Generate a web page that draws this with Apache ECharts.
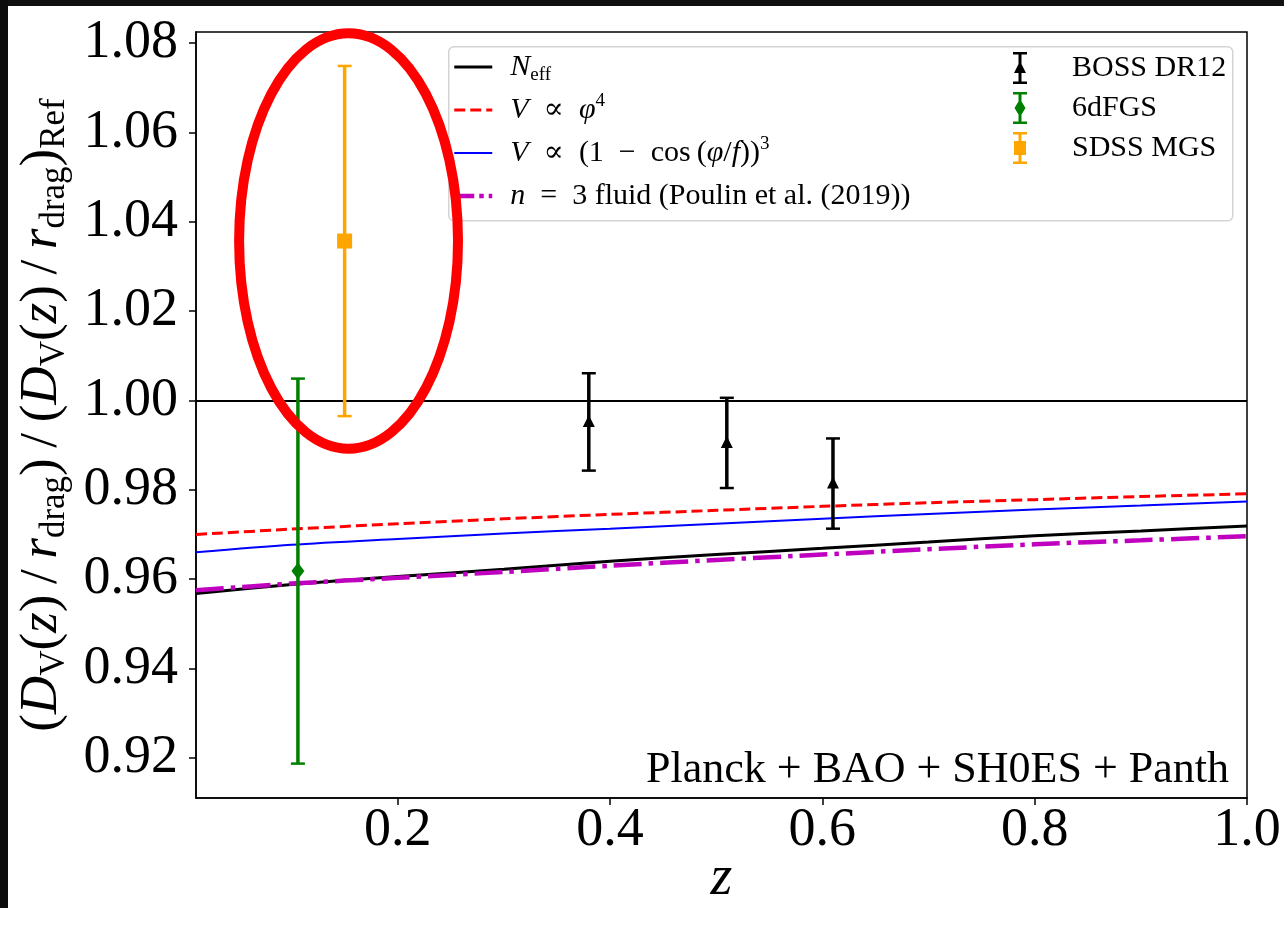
<!DOCTYPE html>
<html>
<head>
<meta charset="utf-8">
<script src="https://cdn.jsdelivr.net/npm/echarts@6/dist/echarts.min.js"></script>
<style>
html,body{margin:0;padding:0;background:#fff;}
#c{position:absolute;left:0;top:0;width:1284px;height:942px;}
#bandTop{position:absolute;left:0;top:0;width:1284px;height:6px;background:#111;}
#bandLeft{position:absolute;left:0;top:0;width:8px;height:908px;background:#0c0c0c;}
</style>
</head>
<body>
<div id="c"></div>
<div id="bandTop"></div>
<div id="bandLeft"></div>
<script>
// ---- data ----
const zGrid   = [0.01, 0.1, 0.2, 0.3, 0.4, 0.5, 0.6, 0.7, 0.8, 0.9, 1.0];
const neff    = [0.9568, 0.9588, 0.9606, 0.9622, 0.9640, 0.9655, 0.9669, 0.9683, 0.9697, 0.9708, 0.9719];
const phi4    = [0.9700, 0.9712, 0.9724, 0.9735, 0.9745, 0.9754, 0.9763, 0.9771, 0.9778, 0.9785, 0.9791];
const cos3    = [0.9660, 0.9677, 0.9690, 0.9702, 0.9713, 0.9724, 0.9735, 0.9746, 0.9756, 0.9765, 0.9774];
const fluid   = [0.9575, 0.9590, 0.9603, 0.9616, 0.9630, 0.9643, 0.9655, 0.9667, 0.9678, 0.9687, 0.9696];

const bossZ   = [0.38, 0.51, 0.61];
const bossV   = [0.9952, 0.9905, 0.9814];
const bossErr = [0.0109, 0.0101, 0.0101];
const sixdfZ  = [0.106];
const sixdfV  = [0.9618];
const sixdfErr= [0.0431];
const sdssZ   = [0.15];
const sdssV   = [1.0357];
const sdssErr = [0.0392];

const refLevel = 1.0;
const ellipseAnno = [[0.1537, 1.0357, 0.1031, 0.0465]]; // centre z, centre y, half-width, half-height

const xTicks = [0.2, 0.4, 0.6, 0.8, 1.0];
const yTicks = [0.92, 0.94, 0.96, 0.98, 1.00, 1.02, 1.04, 1.06, 1.08];
const annotationText = 'Planck + BAO + SH0ES + Panth';

// ---- helpers ----
const FONT = "'Liberation Serif', 'DejaVu Serif', serif";
const zip = (xs, ys) => xs.map((x, i) => [x, ys[i]]);
const zip3 = (xs, ys, es) => xs.map((x, i) => [x, ys[i], es[i]]);

function errRender(marker) {
  return function (params, api) {
    const x = api.value(0), y = api.value(1), e = api.value(2);
    const c = api.coord([x, y]);
    const t = api.coord([x, y + e]);
    const b = api.coord([x, y - e]);
    const color = api.visual('color');
    const cap = 7;
    const children = [
      {type: 'line', shape: {x1: t[0], y1: t[1], x2: b[0], y2: b[1]}, style: {stroke: color, lineWidth: 3.5}},
      {type: 'line', shape: {x1: t[0] - cap, y1: t[1], x2: t[0] + cap, y2: t[1]}, style: {stroke: color, lineWidth: 2.5}},
      {type: 'line', shape: {x1: b[0] - cap, y1: b[1], x2: b[0] + cap, y2: b[1]}, style: {stroke: color, lineWidth: 2.5}}
    ];
    let pts;
    if (marker === 'triangle') pts = [[c[0], c[1] - 7], [c[0] + 6, c[1] + 5], [c[0] - 6, c[1] + 5]];
    else if (marker === 'diamond') pts = [[c[0], c[1] - 8.5], [c[0] + 6.5, c[1]], [c[0], c[1] + 8.5], [c[0] - 6.5, c[1]]];
    else pts = [[c[0] - 7.5, c[1] - 7.5], [c[0] + 7.5, c[1] - 7.5], [c[0] + 7.5, c[1] + 7.5], [c[0] - 7.5, c[1] + 7.5]];
    children.push({type: 'polygon', shape: {points: pts}, style: {fill: color}});
    return {type: 'group', children: children};
  };
}

const LF = 30; // legend font size
const richCommon = {
  it:  {fontFamily: FONT, fontSize: LF, fontStyle: 'italic', lineHeight: 36, color: '#000'},
  sub: {fontFamily: FONT, fontSize: 19, lineHeight: 21, verticalAlign: 'bottom', color: '#000'},
  sup: {fontFamily: FONT, fontSize: 19, lineHeight: 19, verticalAlign: 'top', color: '#000'},
  pad: {width: 13, fontSize: LF, lineHeight: 36},
  padR:{width: 40, fontSize: LF, lineHeight: 36}
};

const SP = '\u2002'; // en space, mimicking TeX math spacing
const leftLabels = {
  'Neff':  '{it|N}{sub|eff}',
  'phi4':  '{it|V}' + SP + '∝' + SP + '{it|φ}{sup|4}',
  'cos3':  '{it|V}' + SP + '∝' + SP + '(1' + SP + '−' + SP + 'cos\u2009({it|φ}/{it|f})){sup|3}',
  'fluid': '{it|n}' + SP + '=' + SP + '3 fluid (Poulin et al. (2019))'
};

const iconTri = 'path://M0,0H14V2.5H0Z M5.5,0H8.5V32H5.5Z M0,29.5H14V32H0Z M7,9L13,21H1Z';
const iconDia = 'path://M0,0H14V2.5H0Z M5.5,0H8.5V32H5.5Z M0,29.5H14V32H0Z M7,7L12.5,16L7,25L1.5,16Z';
const iconSq  = 'path://M0,0H14V2.5H0Z M5.5,0H8.5V32H5.5Z M0,29.5H14V32H0Z M1,9H13V23H1Z';

const hiddenSymbol = {opacity: 0, borderWidth: 0};

const chart = echarts.init(document.getElementById('c'), null, {renderer: 'canvas'});

const option = {
  backgroundColor: '#fff',
  animation: false,
  grid: {left: 196, right: 37, top: 32, bottom: 144, show: true, borderColor: '#000', borderWidth: 1.5, backgroundColor: 'transparent'},
  xAxis: {
    type: 'value', min: 0.01, max: 1.0,
    axisLine: {show: true, lineStyle: {color: '#000', width: 1.5}},
    axisTick: {show: true, length: 7, lineStyle: {color: '#000', width: 1.5}, customValues: xTicks},
    axisLabel: {customValues: xTicks, formatter: v => v.toFixed(1), fontFamily: FONT, fontSize: 54, color: '#000', margin: 6},
    splitLine: {show: false},
    name: 'z', nameLocation: 'middle', nameGap: 53, nameMoveOverlap: false,
    nameTextStyle: {fontFamily: FONT, fontSize: 56, fontStyle: 'italic', color: '#000'}
  },
  yAxis: {
    type: 'value', min: 0.911, max: 1.0825,
    axisLine: {show: true, lineStyle: {color: '#000', width: 1.5}},
    axisTick: {show: true, length: 7, lineStyle: {color: '#000', width: 1.5}, customValues: yTicks},
    axisLabel: {customValues: yTicks, formatter: v => v.toFixed(2), fontFamily: FONT, fontSize: 54, color: '#000', margin: 18},
    splitLine: {show: false},
    name: '({it|D}{sub|V}({it|z})\u2009/\u2009{it|r}{sub|drag})\u2009/\u2009({it|D}{sub|V}({it|z})\u2009/\u2009{it|r}{sub|drag}){sub|Ref}',
    nameLocation: 'middle', nameRotate: 90, nameGap: 122,
    nameTextStyle: {
      fontFamily: FONT, fontSize: 53, lineHeight: 62, color: '#000',
      rich: {
        it:  {fontFamily: FONT, fontSize: 53, fontStyle: 'italic', lineHeight: 62, color: '#000'},
        sub: {fontFamily: FONT, fontSize: 35, lineHeight: 34, verticalAlign: 'bottom', color: '#000'}
      }
    }
  },
  legend: [
    {
      data: [
        {name: 'Neff', itemStyle: hiddenSymbol, lineStyle: {width: 3, color: '#000'}},
        {name: 'phi4', itemStyle: hiddenSymbol, lineStyle: {width: 3, color: '#ff0000', type: [11, 5]}},
        {name: 'cos3', itemStyle: hiddenSymbol, lineStyle: {width: 2, color: '#0000ff'}},
        {name: 'fluid', itemStyle: hiddenSymbol, lineStyle: {width: 4.5, color: '#bf00bf', type: [20, 5, 4.5, 5]}}
      ],
      orient: 'vertical', left: 452, top: 49, padding: 0,
      itemWidth: 38, itemHeight: 14, itemGap: 7, selectedMode: false,
      formatter: n => '{pad| }' + leftLabels[n],
      textStyle: {fontFamily: FONT, fontSize: LF, lineHeight: 36, color: '#000', rich: richCommon}
    },
    {
      data: [
        {name: 'BOSS DR12', icon: iconTri},
        {name: '6dFGS', icon: iconDia},
        {name: 'SDSS MGS', icon: iconSq}
      ],
      orient: 'vertical', left: 1013, top: 50, padding: 0,
      itemWidth: 14, itemHeight: 32, itemGap: 4, selectedMode: false,
      formatter: n => '{padR| }' + n,
      textStyle: {fontFamily: FONT, fontSize: LF, lineHeight: 36, color: '#000', rich: richCommon}
    }
  ],
  graphic: [
    {type: 'rect', left: 448, top: 46, z: 1,
     shape: {width: 784, height: 174, r: 5},
     style: {fill: 'rgba(255,255,255,0.8)', stroke: '#d4d4d4', lineWidth: 1.5}},
    {type: 'text', right: 1284 - 1229, top: 748, z: 5,
     style: {text: annotationText, fontFamily: FONT, fontSize: 44, fill: '#000'}}
  ],
  series: [
    {name: 'Neff', type: 'line', data: zip(zGrid, neff), symbol: 'none', smooth: 0.3, z: 3,
     lineStyle: {color: '#000', width: 3}, itemStyle: {color: '#000'},
     markLine: {silent: true, symbol: 'none', label: {show: false},
       lineStyle: {color: '#000', width: 1.8, type: 'solid'}, data: [{yAxis: refLevel}]}},
    {name: 'phi4', type: 'line', data: zip(zGrid, phi4), symbol: 'none', smooth: 0.3, z: 3,
     lineStyle: {color: '#ff0000', width: 3, type: [11, 5]}, itemStyle: {color: '#ff0000'}},
    {name: 'cos3', type: 'line', data: zip(zGrid, cos3), symbol: 'none', smooth: 0.3, z: 3,
     lineStyle: {color: '#0000ff', width: 2}, itemStyle: {color: '#0000ff'}},
    {name: 'fluid', type: 'line', data: zip(zGrid, fluid), symbol: 'none', smooth: 0.3, z: 3,
     lineStyle: {color: '#bf00bf', width: 4.5, type: [28, 7, 4.5, 7]}, itemStyle: {color: '#bf00bf'}},
    {name: 'BOSS DR12', type: 'custom', data: zip3(bossZ, bossV, bossErr), renderItem: errRender('triangle'),
     encode: {x: 0, y: 1}, itemStyle: {color: '#000'}, z: 5, clip: false},
    {name: '6dFGS', type: 'custom', data: zip3(sixdfZ, sixdfV, sixdfErr), renderItem: errRender('diamond'),
     encode: {x: 0, y: 1}, itemStyle: {color: '#008000'}, z: 5, clip: false},
    {name: 'SDSS MGS', type: 'custom', data: zip3(sdssZ, sdssV, sdssErr), renderItem: errRender('square'),
     encode: {x: 0, y: 1}, itemStyle: {color: '#ffa500'}, z: 5, clip: false},
    {name: 'highlight', type: 'custom', data: ellipseAnno, clip: false, z: 20, silent: true,
     encode: {x: 0, y: 1},
     renderItem: function (params, api) {
       const c = api.coord([api.value(0), api.value(1)]);
       const s = api.size([api.value(2), api.value(3)]);
       return {type: 'ellipse', shape: {cx: c[0], cy: c[1], rx: s[0], ry: s[1]},
               style: {fill: 'none', stroke: '#ff0000', lineWidth: 10}};
     }}
  ]
};
chart.setOption(option);
</script>
</body>
</html>
